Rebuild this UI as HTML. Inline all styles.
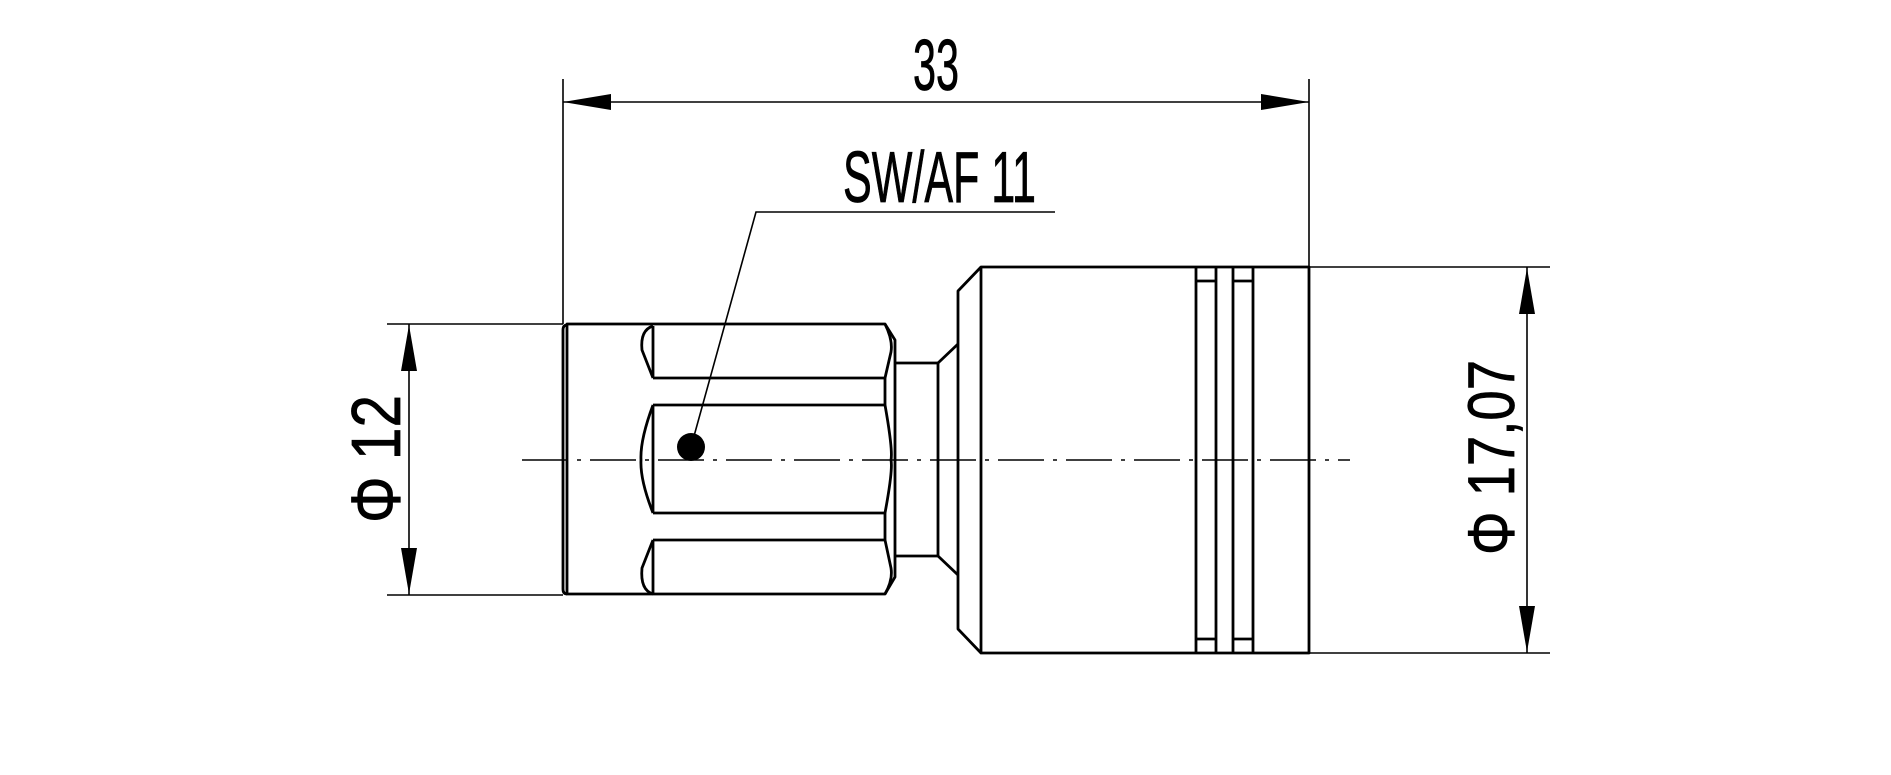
<!DOCTYPE html>
<html><head><meta charset="utf-8"><style>html,body{margin:0;padding:0;background:#fff}svg{display:block}</style></head>
<body>
<svg width="1891" height="775" viewBox="0 0 1891 775" xmlns="http://www.w3.org/2000/svg">
<g fill="none" stroke="#000" stroke-width="1.6">
  <line x1="563" y1="79" x2="563" y2="324"/>
  <line x1="1309" y1="79" x2="1309" y2="267"/>
  <line x1="563" y1="102" x2="1309" y2="102"/>
  <line x1="387" y1="324" x2="563" y2="324"/>
  <line x1="387" y1="595" x2="563" y2="595"/>
  <line x1="409" y1="324" x2="409" y2="595"/>
  <line x1="1309" y1="267" x2="1550" y2="267"/>
  <line x1="1309" y1="653" x2="1550" y2="653"/>
  <line x1="1527" y1="267" x2="1527" y2="653"/>
  <polyline points="1055,212 756,212 691,447"/>
  <line x1="522" y1="460" x2="1350" y2="460" stroke-dasharray="46,9,4,9"/>
</g>
<g fill="#000">
  <polygon points="563,102 611,94 611,110"/>
  <polygon points="1309,102 1261,94 1261,110"/>
  <polygon points="409,325 401,371 417,371"/>
  <polygon points="409,594 401,548 417,548"/>
  <polygon points="1527,268 1519,314 1535,314"/>
  <polygon points="1527,652 1519,606 1535,606"/>
  <circle cx="691" cy="447" r="14"/>
</g>
<g fill="none" stroke="#000" stroke-width="2.8" stroke-linejoin="round">
  <path d="M567,324 L885,324 L895,340 L895,577 L885,594 L567,594 Z"/>
  <path d="M567,325 Q563,325 563,330 L563,589 Q563,594 567,594"/>
  <line x1="653" y1="378" x2="885" y2="378"/>
  <line x1="653" y1="405" x2="885" y2="405"/>
  <line x1="653" y1="513" x2="885" y2="513"/>
  <line x1="653" y1="540" x2="885" y2="540"/>
  <line x1="653" y1="326" x2="653" y2="378"/>
  <line x1="653" y1="405" x2="653" y2="513"/>
  <line x1="653" y1="540" x2="653" y2="594"/>
  <path d="M653,326 Q640,330 642,350 L653,378"/>
  <path d="M653,405 Q640,440 641,460 Q640,480 653,513"/>
  <path d="M653,540 L642,568 Q640,590 653,594"/>
  <path d="M885,324 Q893,340 891,352 L885,378"/>
  <path d="M885,405 Q893,450 891,460 Q893,470 885,513"/>
  <path d="M885,540 L891,568 Q893,580 885,594"/>
  <line x1="885" y1="378" x2="885" y2="405"/>
  <line x1="885" y1="513" x2="885" y2="540"/>
  <path d="M895,363 L938,363 L938,556 L895,556"/>
  <line x1="938" y1="363" x2="958" y2="344"/>
  <line x1="938" y1="556" x2="958" y2="575"/>
  <path d="M981,267 L1309,267 L1309,653 L981,653 L958,629 L958,291 Z"/>
  <line x1="981" y1="267" x2="981" y2="653"/>
  <line x1="1196" y1="267" x2="1196" y2="653"/>
  <line x1="1216" y1="267" x2="1216" y2="653"/>
  <line x1="1233" y1="267" x2="1233" y2="653"/>
  <line x1="1253" y1="267" x2="1253" y2="653"/>
  <line x1="1196" y1="281" x2="1216" y2="281"/>
  <line x1="1233" y1="281" x2="1253" y2="281"/>
  <line x1="1196" y1="639" x2="1216" y2="639"/>
  <line x1="1233" y1="639" x2="1253" y2="639"/>
</g>
<g fill="#000" stroke="#000" stroke-width="0.8" font-family="Liberation Sans, sans-serif">
  <text x="913" y="90" font-size="72" textLength="46" lengthAdjust="spacingAndGlyphs">33</text>
  <text x="843" y="202" font-size="72" textLength="193" lengthAdjust="spacingAndGlyphs">SW/AF 11</text>
  <text transform="translate(400,523) rotate(-90)" font-size="70" textLength="128" lengthAdjust="spacingAndGlyphs">Φ 12</text>
  <text transform="translate(1514,555) rotate(-90)" font-size="66" textLength="195" lengthAdjust="spacingAndGlyphs">Φ 17,07</text>
</g>
</svg>
</body></html>
